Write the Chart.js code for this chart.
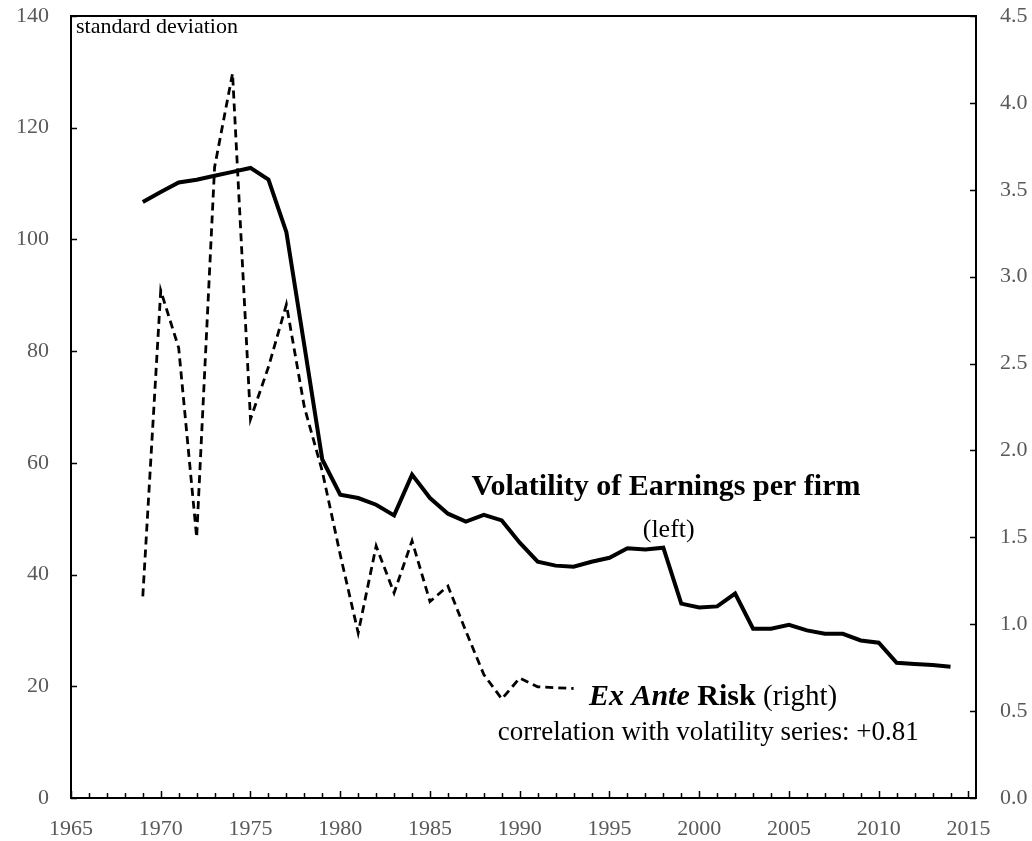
<!DOCTYPE html>
<html>
<head>
<meta charset="utf-8">
<script src="https://cdn.jsdelivr.net/npm/chart.js@4/dist/chart.umd.min.js"></script>
<style>
  html, body { margin: 0; padding: 0; background: #fff; }
  #wrap { width: 1032px; height: 841px; }
</style>
</head>
<body>
<div id="wrap"><canvas id="chart" width="1032" height="841"></canvas></div>
<script>
// data

const volYears = [
  1969, 1970, 1971, 1972, 1973, 1974, 1975, 1976, 1977, 1978,
  1979, 1980, 1981, 1982, 1983, 1984, 1985, 1986, 1987, 1988,
  1989, 1990, 1991, 1992, 1993, 1994, 1995, 1996, 1997, 1998,
  1999, 2000, 2001, 2002, 2003, 2004, 2005, 2006, 2007, 2008,
  2009, 2010, 2011, 2012, 2013, 2014
];
// standard deviation, left axis
const volatility = [
  106.7, 108.5, 110.2, 110.7, 111.4, 112.1, 112.8, 110.7, 101.3, 81.0,
  60.6, 54.3, 53.7, 52.5, 50.6, 57.9, 53.7, 50.9, 49.5, 50.7,
  49.7, 45.7, 42.3, 41.6, 41.4, 42.3, 43.0, 44.7, 44.5, 44.8,
  34.8, 34.1, 34.3, 36.6, 30.3, 30.3, 31.0, 30.0, 29.4, 29.4,
  28.2, 27.8, 24.2, 24.0, 23.8, 23.5
];

const riskYears = [
  1969, 1970, 1971, 1972, 1973, 1974, 1975, 1976, 1977, 1978,
  1979, 1980, 1981, 1982, 1983, 1984, 1985, 1986, 1987, 1988,
  1989, 1990, 1991, 1992, 1993
];
// ex ante risk, right axis
const exAnteRisk = [
  1.16, 2.92, 2.59, 1.50, 3.63, 4.17, 2.18, 2.48, 2.84, 2.25,
  1.88, 1.40, 0.95, 1.45, 1.18, 1.48, 1.13, 1.22, 0.96, 0.71,
  0.57, 0.69, 0.64, 0.635, 0.63
];

const xTicks = [1965, 1970, 1975, 1980, 1985, 1990, 1995, 2000, 2005, 2010, 2015];
const leftTicks = [0, 20, 40, 60, 80, 100, 120, 140];
const rightTicks = [0, 0.5, 1.0, 1.5, 2.0, 2.5, 3.0, 3.5, 4.0, 4.5];

const SERIF = "'Liberation Serif', 'Times New Roman', serif";
const TICK_GREY = "#595959";

function toPoints(xs, ys) {
  return xs.map((x, i) => ({ x: x, y: ys[i] }));
}

// frame, inward tick marks and the text labels
const framePlugin = {
  id: "frame",
  afterDraw(chart) {
    const ctx = chart.ctx;
    const a = chart.chartArea;
    const xs = chart.scales.x;
    const yl = chart.scales.y;
    const yr = chart.scales.y1;

    ctx.save();
    ctx.strokeStyle = "#000";
    ctx.lineWidth = 2;
    ctx.strokeRect(a.left, a.top, a.right - a.left, a.bottom - a.top);

    ctx.lineWidth = 1.5;
    ctx.beginPath();
    for (let yr0 = 1965; yr0 <= 2015; yr0++) {
      const px = Math.round(xs.getPixelForValue(yr0)) + 0.5;
      const len = yr0 % 5 === 0 ? 7 : 5;
      ctx.moveTo(px, a.bottom);
      ctx.lineTo(px, a.bottom - len);
    }
    leftTicks.forEach(v => {
      const py = Math.round(yl.getPixelForValue(v)) + 0.5;
      ctx.moveTo(a.left, py);
      ctx.lineTo(a.left + 6, py);
    });
    rightTicks.forEach(v => {
      const py = Math.round(yr.getPixelForValue(v)) + 0.5;
      ctx.moveTo(a.right, py);
      ctx.lineTo(a.right - 6, py);
    });
    ctx.stroke();

    // texts
    ctx.fillStyle = "#000";
    ctx.textBaseline = "alphabetic";

    ctx.font = "22px " + SERIF;
    ctx.textAlign = "left";
    ctx.fillText("standard deviation", a.left + 5, a.top + 17);

    ctx.textAlign = "center";
    ctx.font = "bold 30px " + SERIF;
    ctx.fillText("Volatility of Earnings per firm", xs.getPixelForValue(1998.15), yl.getPixelForValue(54.3));
    ctx.font = "26px " + SERIF;
    ctx.fillText("(left)", xs.getPixelForValue(1998.3), yl.getPixelForValue(46.8));

    // "Ex Ante Risk (right)" in three styles, centred as one line
    const parts = [
      ["italic bold 30px " + SERIF, "Ex Ante "],
      ["bold 30px " + SERIF, "Risk "],
      ["29px " + SERIF, "(right)"]
    ];
    let total = 0;
    parts.forEach(p => { ctx.font = p[0]; total += ctx.measureText(p[1]).width; });
    let x0 = xs.getPixelForValue(2000.77) - total / 2;
    const y0 = yr.getPixelForValue(0.537);
    ctx.textAlign = "left";
    parts.forEach(p => {
      ctx.font = p[0];
      ctx.fillText(p[1], x0, y0);
      x0 += ctx.measureText(p[1]).width;
    });

    ctx.textAlign = "center";
    ctx.font = "27px " + SERIF;
    ctx.fillText("correlation with volatility series: +0.81", xs.getPixelForValue(2000.5), yr.getPixelForValue(0.336));
    ctx.restore();
  }
};

const ctx = document.getElementById("chart").getContext("2d");

new Chart(ctx, {
  type: "line",
  data: {
    datasets: [
      {
        label: "Volatility of Earnings per firm (left)",
        data: toPoints(volYears, volatility),
        yAxisID: "y",
        borderColor: "#000",
        borderWidth: 4,
        pointRadius: 0,
        tension: 0,
        fill: false
      },
      {
        label: "Ex Ante Risk (right)",
        data: toPoints(riskYears, exAnteRisk),
        yAxisID: "y1",
        borderColor: "#000",
        borderWidth: 2.8,
        borderDash: [8, 5],
        pointRadius: 0,
        tension: 0,
        fill: false
      }
    ]
  },
  options: {
    responsive: false,
    animation: false,
    devicePixelRatio: 1,
    layout: { padding: { top: 16, left: 0, right: 0, bottom: 0 } },
    plugins: {
      legend: { display: false },
      tooltip: { enabled: false }
    },
    scales: {
      x: {
        type: "linear",
        min: 1965,
        max: 2015.42,
        grid: { display: false, drawTicks: false },
        border: { display: false },
        afterBuildTicks: scale => { scale.ticks = xTicks.map(v => ({ value: v })); },
        afterFit: scale => { scale.height = 43; },
        ticks: {
          color: TICK_GREY,
          font: { family: SERIF, size: 22 },
          padding: 18,
          maxRotation: 0,
          autoSkip: false,
          callback: v => String(v)
        }
      },
      y: {
        position: "left",
        min: 0,
        max: 140,
        grid: { display: false, drawTicks: false },
        border: { display: false },
        afterBuildTicks: scale => { scale.ticks = leftTicks.map(v => ({ value: v })); },
        afterFit: scale => { scale.width = 71; scale.paddingTop = 0; scale.paddingBottom = 0; },
        ticks: {
          color: TICK_GREY,
          font: { family: SERIF, size: 22 },
          padding: 22,
          callback: v => String(v)
        }
      },
      y1: {
        position: "right",
        min: 0,
        max: 4.5,
        grid: { display: false, drawTicks: false },
        border: { display: false },
        afterBuildTicks: scale => { scale.ticks = rightTicks.map(v => ({ value: v })); },
        afterFit: scale => { scale.width = 56; scale.paddingTop = 0; scale.paddingBottom = 0; },
        ticks: {
          color: TICK_GREY,
          font: { family: SERIF, size: 22 },
          padding: 24,
          callback: v => Number(v).toFixed(1)
        }
      }
    }
  },
  plugins: [framePlugin]
});
</script>
</body>
</html>
